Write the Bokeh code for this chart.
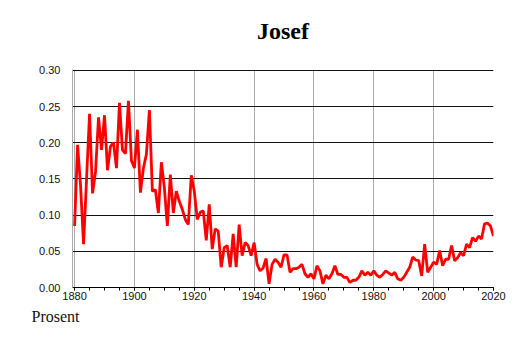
from bokeh.plotting import figure
from bokeh.models import Range1d, FixedTicker, Title, NumeralTickFormatter
from bokeh.embed import file_html
from bokeh.resources import INLINE

title_text = "Josef"
y_label_text = "Prosent"

years = list(range(1880, 2021))
values = [
    0.085, 0.197, 0.140, 0.060, 0.150, 0.240, 0.130, 0.160, 0.235, 0.190,
    0.238, 0.162, 0.195, 0.200, 0.165, 0.255, 0.190, 0.185, 0.258, 0.175,
    0.165, 0.218, 0.131, 0.165, 0.184, 0.245, 0.133, 0.135, 0.103, 0.173,
    0.138, 0.085, 0.156, 0.103, 0.133, 0.119, 0.108, 0.094, 0.087, 0.155,
    0.133, 0.094, 0.104, 0.106, 0.065, 0.115, 0.053, 0.081, 0.078, 0.028,
    0.055, 0.058, 0.028, 0.074, 0.028, 0.087, 0.044, 0.062, 0.058, 0.044,
    0.062, 0.032, 0.023, 0.027, 0.040, 0.005, 0.032, 0.039, 0.035, 0.028,
    0.045, 0.045, 0.021, 0.026, 0.026, 0.028, 0.032, 0.019, 0.014, 0.019,
    0.012, 0.030, 0.023, 0.005, 0.017, 0.012, 0.019, 0.030, 0.018, 0.018,
    0.014, 0.014, 0.007, 0.010, 0.010, 0.014, 0.023, 0.017, 0.021, 0.017,
    0.023, 0.017, 0.014, 0.018, 0.023, 0.020, 0.017, 0.021, 0.012, 0.010,
    0.014, 0.021, 0.028, 0.042, 0.038, 0.037, 0.016, 0.060, 0.021, 0.028,
    0.035, 0.032, 0.051, 0.030, 0.039, 0.039, 0.058, 0.037, 0.041, 0.048,
    0.044, 0.060, 0.055, 0.069, 0.064, 0.071, 0.067, 0.088, 0.089, 0.085,
    0.071,
]

x_ticks = [1880, 1900, 1920, 1940, 1960, 1980, 2000, 2020]
y_ticks = [0.0, 0.05, 0.10, 0.15, 0.20, 0.25, 0.30]

p = figure(width=514, height=343, output_backend="svg", toolbar_location=None,
           x_range=Range1d(1879.3, 2020), y_range=Range1d(0, 0.3012),
           min_border_left=72, min_border_right=21, min_border_top=69,
           min_border_bottom=56)
p.outline_line_color = None
p.background_fill_color = "white"
p.border_fill_color = "white"

# spacer between title and frame
p.add_layout(Title(text=" ", text_font_size="10px", standoff=13), "above")

p.title.text = title_text
p.title.text_font = "Liberation Serif"
p.title.text_font_style = "bold"
p.title.text_font_size = "24px"
p.title.text_color = "#000000"
p.title.align = "center"
p.title.standoff = 0

p.line(years, values, line_color="#ff0000", line_width=2.8)

# axes
p.xaxis.ticker = FixedTicker(ticks=x_ticks,
                             minor_ticks=list(range(1880, 2021, 5)))
p.yaxis.ticker = FixedTicker(ticks=y_ticks)
p.yaxis.formatter = NumeralTickFormatter(format="0.00")
for ax in (p.xaxis[0], p.yaxis[0]):
    ax.major_label_text_font = "Liberation Sans"
    ax.major_label_text_font_size = "11px"
    ax.major_label_text_color = "#111111"
p.xaxis.axis_line_color = "#000000"
p.xaxis.major_tick_line_color = "#000000"
p.xaxis.minor_tick_line_color = "#000000"
p.xaxis.major_tick_out = 3
p.xaxis.major_tick_in = 0
p.xaxis.minor_tick_out = 3
p.xaxis.minor_tick_in = 0
p.xaxis.major_label_standoff = 1
p.yaxis.axis_line_color = "#aaaaaa"
p.yaxis.major_tick_line_color = None
p.yaxis.minor_tick_line_color = None
p.yaxis.major_label_standoff = 6

p.ygrid.grid_line_color = "#111111"
p.ygrid.grid_line_width = 1
p.xgrid.grid_line_color = "#aaaaaa"
p.xgrid.grid_line_width = 1

p.add_layout(Title(text=y_label_text, align="left", offset=-41, standoff=6,
                   text_font="Liberation Serif", text_font_size="16px",
                   text_font_style="normal", text_color="#111111"), "below")

open("out.html", "w").write(file_html(p, INLINE))
